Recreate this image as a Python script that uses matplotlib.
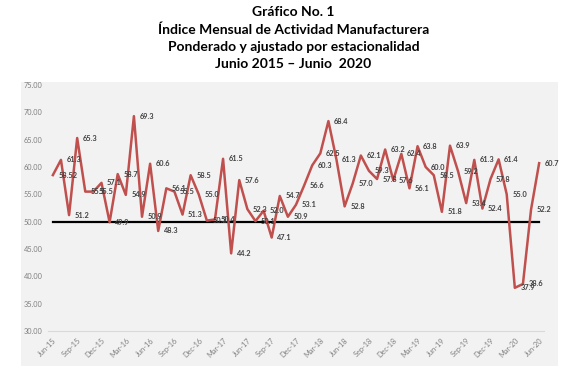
import matplotlib.pyplot as plt
from matplotlib.patches import Rectangle

# Datos del indice (Jun-15 a Jun-20)
meses = ['Jun-15', 'Jul-15', 'Aug-15', 'Sep-15', 'Oct-15', 'Nov-15', 'Dec-15',
         'Jan-16', 'Feb-16', 'Mar-16', 'Apr-16', 'May-16', 'Jun-16', 'Jul-16',
         'Aug-16', 'Sep-16', 'Oct-16', 'Nov-16', 'Dec-16', 'Jan-17', 'Feb-17',
         'Mar-17', 'Apr-17', 'May-17', 'Jun-17', 'Jul-17', 'Aug-17', 'Sep-17',
         'Oct-17', 'Nov-17', 'Dec-17', 'Jan-18', 'Feb-18', 'Mar-18', 'Apr-18',
         'May-18', 'Jun-18', 'Jul-18', 'Aug-18', 'Sep-18', 'Oct-18', 'Nov-18',
         'Dec-18', 'Jan-19', 'Feb-19', 'Mar-19', 'Apr-19', 'May-19', 'Jun-19',
         'Jul-19', 'Aug-19', 'Sep-19', 'Oct-19', 'Nov-19', 'Dec-19', 'Jan-20',
         'Feb-20', 'Mar-20', 'Apr-20', 'May-20', 'Jun-20']
indice = [58.52, 61.3, 51.2, 65.3, 55.5, 55.5, 57.1,
          49.9, 58.7, 54.9, 69.3, 50.9, 60.6, 48.3,
          56.1, 55.5, 51.3, 58.5, 55.0, 50.2, 50.4,
          61.5, 44.2, 57.6, 52.3, 50.1, 52.0, 47.1,
          54.7, 50.9, 53.1, 56.6, 60.3, 62.5, 68.4,
          61.3, 52.8, 57.0, 62.1, 59.3, 57.8, 63.2,
          57.6, 62.4, 56.1, 63.8, 60.0, 58.5, 51.8,
          63.9, 59.2, 53.4, 61.3, 52.4, 57.8, 61.4,
          55.0, 37.9, 38.6, 52.2, 60.7]
umbral = 50
yticks = [30, 35, 40, 45, 50, 55, 60, 65, 70, 75]

titulo = ('Gráfico No. 1\n'
          'Índice Mensual de Actividad Manufacturera\n'
          'Ponderado y ajustado por estacionalidad\n'
          'Junio 2015 – Junio  2020')

fig = plt.figure(figsize=(5.87, 3.75), dpi=100)
# fondo gris del area del grafico (como en excel)
fondo = Rectangle((21/587, 9/375), 537/587, 284/375, transform=fig.transFigure,
                  facecolor='#f2f2f2', edgecolor='none', zorder=-5)
fig.add_artist(fondo)
ax = fig.add_axes([48/587, 44/375, 496/587, 246/375])
ax.set_facecolor('none')
ax.set_zorder(1)

x = list(range(len(indice)))
ax.plot(x, indice, color='#c0504d', lw=1.8, zorder=3)
ax.plot([0, len(indice) - 1], [umbral, umbral], color='black', lw=1.6, zorder=2)

# etiquetas de los valores
for i, v in enumerate(indice):
    ax.annotate(str(v), (i, v), xytext=(4, 0), textcoords='offset points',
                ha='left', va='center', fontsize=5.3, fontweight='bold',
                color='#404040', family='Lato', zorder=4)

ax.set_xlim(-0.6, len(indice) - 0.4)
ax.set_ylim(30, 75)
ax.set_yticks(yticks)
ax.set_yticklabels(['%.2f' % t for t in yticks], fontsize=5.3, color='#7f7f7f',
                   family='Lato')
ax.set_xticks(x[::3])
ax.set_xticklabels(meses[::3], rotation=45, ha='right', rotation_mode='anchor',
                   fontsize=5.3, color='#7f7f7f', family='Lato')
ax.tick_params(length=0, pad=4)
for s in ['top', 'right', 'left']:
    ax.spines[s].set_visible(False)
ax.spines['bottom'].set_color('#d9d9d9')
ax.spines['bottom'].set_linewidth(0.8)

fig.text(0.5, 1 - 6/375, titulo, ha='center', va='top', fontsize=10,
         fontweight='bold', family='Lato', linespacing=1.5)

plt.savefig('out.png', dpi=100)
